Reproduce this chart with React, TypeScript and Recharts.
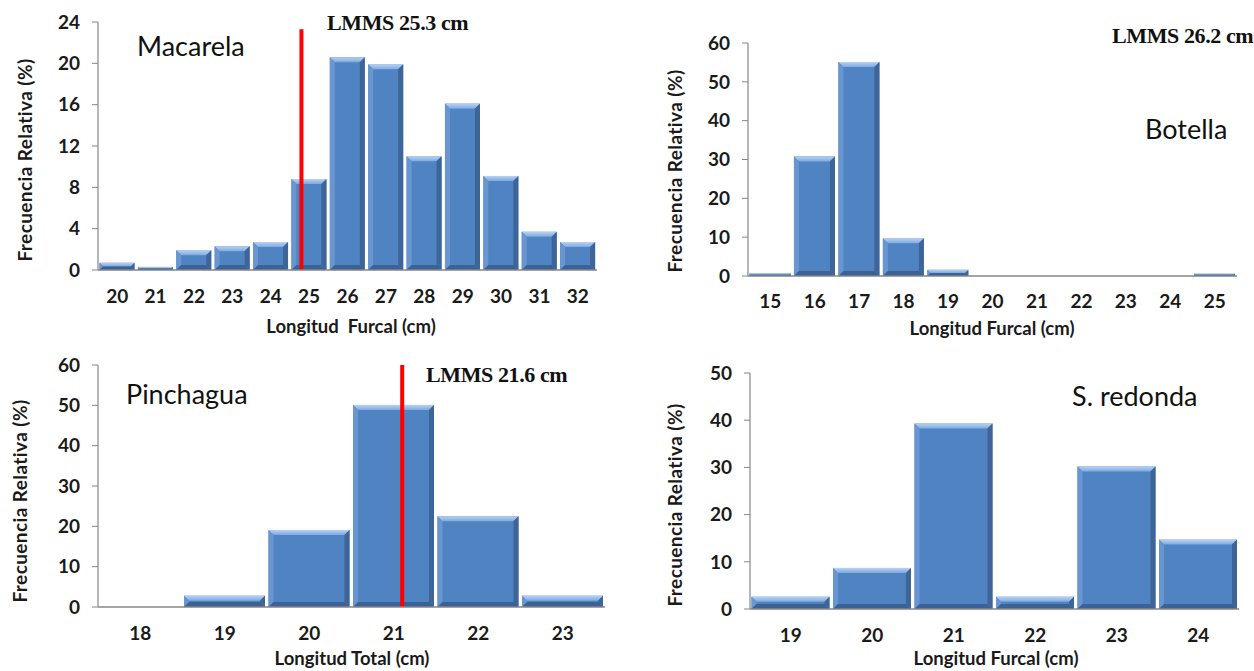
import React from "react";
import { BarChart, Bar, XAxis, YAxis, ReferenceLine } from "recharts";

// Macarela (longitud furcal), clases de 1 cm
const macarelaLengths = [20, 21, 22, 23, 24, 25, 26, 27, 28, 29, 30, 31, 32];
const macarelaFreq = [0.7, 0.3, 1.9, 2.3, 2.7, 8.8, 20.6, 19.9, 11.0, 16.1, 9.1, 3.7, 2.7];
const macarelaTicks = [0, 4, 8, 12, 16, 20, 24];

// Botella (longitud furcal)
const botellaLengths = [15, 16, 17, 18, 19, 20, 21, 22, 23, 24, 25];
const botellaFreq = [0.7, 30.8, 55.1, 9.7, 1.6, 0, 0, 0, 0, 0, 0.6];
const botellaTicks = [0, 10, 20, 30, 40, 50, 60];

// Pinchagua (longitud total)
const pinchaguaLengths = [18, 19, 20, 21, 22, 23];
const pinchaguaFreq = [0, 2.8, 19.1, 50.1, 22.5, 2.8];
const pinchaguaTicks = [0, 10, 20, 30, 40, 50, 60];

// S. redonda (longitud furcal)
const redondaLengths = [19, 20, 21, 22, 23, 24];
const redondaFreq = [2.6, 8.7, 39.3, 2.6, 30.2, 14.7];
const redondaTicks = [0, 10, 20, 30, 40, 50];

// Talla media de madurez sexual
const macarelaLmms = 25.3;
const botellaLmms = 26.2;
const pinchaguaLmms = 21.6;

const SANS = "Lato, 'Open Sans', sans-serif";
const SERIF = "'Liberation Serif', 'DejaVu Serif', serif";
const AXIS_GREY = "#868686";
const TEXT = "#1a1a1a";

// each class [len, len+1) is drawn at its midpoint
const toRows = (lengths: number[], freq: number[]) =>
  lengths.map((len, i) => ({ len, mid: len + 0.5, freq: freq[i] }));

// Excel-style bevelled bar
function BevelBar(props: any) {
  const { x, y, width, height } = props;
  if (!height || height <= 0 || !width) return null;
  const b = Math.min(5, height / 2, width / 2);
  const x2 = x + width;
  const y2 = y + height;
  return (
    <g>
      <rect x={x} y={y} width={width} height={height} fill="#5083c2" />
      <polygon
        points={`${x},${y} ${x2},${y} ${x2 - b},${y + b} ${x + b},${y + b}`}
        fill="url(#bevelTop)"
      />
      <polygon
        points={`${x},${y} ${x + b},${y + b} ${x + b},${y2 - b} ${x},${y2}`}
        fill="#6996d0"
      />
      <polygon
        points={`${x2},${y} ${x2},${y2} ${x2 - b},${y2 - b} ${x2 - b},${y + b}`}
        fill="#3d6597"
      />
      <polygon
        points={`${x},${y2} ${x + b},${y2 - b} ${x2 - b},${y2 - b} ${x2},${y2}`}
        fill="#3b6295"
      />
    </g>
  );
}

type PanelProps = {
  left: number;
  top: number;
  width: number;
  height: number;
  yAxisWidth: number;
  margin: { top: number; right: number; bottom: number; left: number };
  xAxisHeight: number;
  tickGap: number;
  lengths: number[];
  freq: number[];
  ticks: number[];
  lmms?: number;
  lmmsTop?: number;
};

function Panel(p: PanelProps) {
  const rows = toRows(p.lengths, p.freq);
  const first = p.lengths[0];
  const last = p.lengths[p.lengths.length - 1];
  const yMax = p.ticks[p.ticks.length - 1];
  const tickStyle = { fontSize: 19, fontWeight: 700, fill: TEXT, fontFamily: SANS };
  const showLine = p.lmms !== undefined && p.lmms <= last + 1;
  return (
    <div style={{ position: "absolute", left: p.left, top: p.top }}>
      <BarChart
        width={p.width}
        height={p.height}
        data={rows}
        margin={p.margin}
        barCategoryGap={1.5}
      >
        <defs>
          <linearGradient id="bevelTop" x1="0" y1="0" x2="0" y2="1">
            <stop offset="0%" stopColor="#b8d2f3" />
            <stop offset="100%" stopColor="#7ea9df" />
          </linearGradient>
        </defs>
        <XAxis
          dataKey="mid"
          type="number"
          domain={[first, last + 1]}
          ticks={rows.map((r) => r.mid)}
          tickFormatter={(v: number) => String(v - 0.5)}
          interval={0}
          height={p.xAxisHeight}
          axisLine={{ stroke: AXIS_GREY, strokeWidth: 1.5 }}
          tickLine={false}
          tickSize={0}
          tickMargin={p.tickGap}
          tick={tickStyle}
        />
        <YAxis
          width={p.yAxisWidth}
          domain={[p.ticks[0], yMax]}
          ticks={p.ticks}
          interval={0}
          axisLine={{ stroke: AXIS_GREY, strokeWidth: 1.2 }}
          tickLine={{ stroke: AXIS_GREY }}
          tickSize={6}
          tickMargin={12}
          tick={tickStyle}
        />
        <Bar dataKey="freq" shape={<BevelBar />} isAnimationActive={false} />
        {showLine && p.lmmsTop !== undefined && (
          <ReferenceLine
            segment={[
              { x: p.lmms, y: 0 },
              { x: p.lmms, y: p.lmmsTop },
            ]}
            stroke="#ff0000"
            strokeWidth={4}
          />
        )}
        {showLine && p.lmmsTop === undefined && (
          <ReferenceLine x={p.lmms} stroke="#ff0000" strokeWidth={4} />
        )}
      </BarChart>
    </div>
  );
}

const Note = ({ x, y, children, style }: any) => (
  <div
    style={{
      position: "absolute",
      left: x,
      top: y,
      whiteSpace: "nowrap",
      lineHeight: 1,
      transform: "translateY(-50%)",
      ...style,
    }}
  >
    {children}
  </div>
);

const speciesStyle = { fontFamily: SANS, fontSize: 27, color: "#111" };
const lmmsStyle = { fontFamily: SERIF, fontSize: 22, fontWeight: 700, color: "#111", letterSpacing: -0.4 };
const xTitleStyle = {
  fontFamily: SANS,
  fontSize: 18.5,
  fontWeight: 700,
  color: TEXT,
  transform: "translate(-50%, -50%)",
};
const yTitleStyle = {
  fontFamily: SANS,
  fontSize: 19,
  fontWeight: 700,
  color: TEXT,
  letterSpacing: 0.4,
  transform: "translate(-50%, -50%) rotate(-90deg)",
};

export default function App() {
  return (
    <div
      style={{
        position: "absolute",
        left: 0,
        top: 0,
        width: 1254,
        height: 671,
        background: "#ffffff",
        overflow: "hidden",
      }}
    >
      <Panel
        left={0}
        top={0}
        width={620}
        height={340}
        yAxisWidth={98}
        margin={{ top: 22, right: 23, bottom: 0, left: 0 }}
        xAxisHeight={70}
        tickGap={20}
        lengths={macarelaLengths}
        freq={macarelaFreq}
        ticks={macarelaTicks}
        lmms={macarelaLmms}
        lmmsTop={23.3}
      />
      <Panel
        left={620}
        top={0}
        width={634}
        height={340}
        yAxisWidth={128}
        margin={{ top: 43, right: 17, bottom: 0, left: 0 }}
        xAxisHeight={64}
        tickGap={19}
        lengths={botellaLengths}
        freq={botellaFreq}
        ticks={botellaTicks}
        lmms={botellaLmms}
      />
      <Panel
        left={0}
        top={340}
        width={620}
        height={331}
        yAxisWidth={98}
        margin={{ top: 25, right: 15, bottom: 0, left: 0 }}
        xAxisHeight={64}
        tickGap={20}
        lengths={pinchaguaLengths}
        freq={pinchaguaFreq}
        ticks={pinchaguaTicks}
        lmms={pinchaguaLmms}
      />
      <Panel
        left={620}
        top={340}
        width={634}
        height={331}
        yAxisWidth={130}
        margin={{ top: 33, right: 15, bottom: 0, left: 0 }}
        xAxisHeight={62}
        tickGap={20}
        lengths={redondaLengths}
        freq={redondaFreq}
        ticks={redondaTicks}
      />

      {/* species names */}
      <Note x={137} y={45} style={speciesStyle}>Macarela</Note>
      <Note x={1145} y={128} style={speciesStyle}>Botella</Note>
      <Note x={126} y={393} style={speciesStyle}>Pinchagua</Note>
      <Note x={1072} y={395} style={speciesStyle}>S. redonda</Note>

      {/* LMMS labels */}
      <Note x={327} y={23} style={lmmsStyle}>LMMS {macarelaLmms} cm</Note>
      <Note x={1112} y={36} style={lmmsStyle}>LMMS {botellaLmms} cm</Note>
      <Note x={426} y={375} style={lmmsStyle}>LMMS {pinchaguaLmms} cm</Note>

      {/* axis titles */}
      <Note x={351} y={326} style={xTitleStyle}>Longitud&nbsp; Furcal (cm)</Note>
      <Note x={992} y={328} style={xTitleStyle}>Longitud Furcal (cm)</Note>
      <Note x={352} y={658} style={xTitleStyle}>Longitud Total (cm)</Note>
      <Note x={996} y={658} style={xTitleStyle}>Longitud Furcal (cm)</Note>

      <Note x={24} y={160} style={yTitleStyle}>Frecuencia Relativa (%)</Note>
      <Note x={674} y={171} style={yTitleStyle}>Frecuencia Relativa (%)</Note>
      <Note x={19} y={501} style={yTitleStyle}>Frecuencia Relativa (%)</Note>
      <Note x={674} y={505} style={yTitleStyle}>Frecuencia Relativa (%)</Note>
    </div>
  );
}
